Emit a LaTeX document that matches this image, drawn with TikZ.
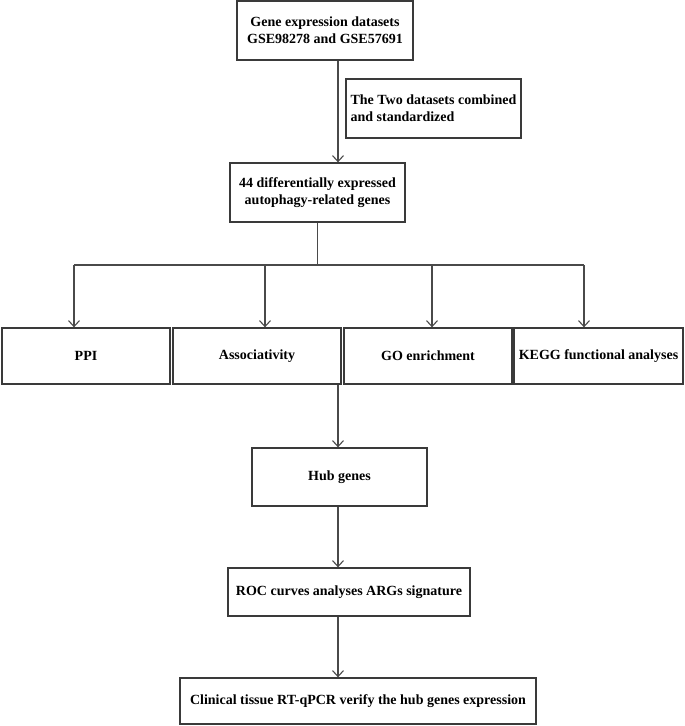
\documentclass[tikz,border=0pt]{standalone}
\usepackage{fontspec}
\setmainfont{Liberation Serif}
\usetikzlibrary{arrows.meta,positioning}
\definecolor{boxgray}{HTML}{3A3A3A}
\definecolor{linegray}{HTML}{4A4A4A}

\begin{document}
\begin{tikzpicture}[
  x=1pt, y=-1pt,
  >={Straight Barb[length=6pt,width=11pt]},
  flow/.style={->, draw=linegray, line width=1.1pt},
  link/.style={draw=linegray, line width=1.1pt},
  box/.style={draw=boxgray, line width=1.3pt, align=center, inner sep=1pt,
    font=\fontsize{14}{17}\selectfont\bfseries}
]
  \useasboundingbox (0,0) rectangle (685,726);

  \node[box, minimum width=176pt, minimum height=59pt] (genes) at (325,30.5)
    {Gene expression datasets\\GSE98278 and GSE57691};
  \node[box, minimum width=175pt, minimum height=59pt, align=left] (combine) at (433.5,108.5)
    {The Two datasets combined\\and standardized};
  \node[box, minimum width=175pt, minimum height=59pt] (degs) at (317.5,192.5)
    {44 differentially expressed\\autophagy-related genes};

  % analyses row
  \node[box, minimum width=168pt, minimum height=56pt] (ppi) at (86,356) {PPI};
  \node[box, minimum width=168pt, minimum height=56pt] (assoc) at (257,356) {Associativity};
  \node[box, minimum width=168pt, minimum height=56pt] (go) at (428,356) {GO enrichment};
  \node[box, minimum width=169pt, minimum height=56pt] (kegg) at (598.5,356) {KEGG functional analyses};

  \node[box, minimum width=175pt, minimum height=58pt] (hub) at (339.5,477) {Hub genes};
  \node[box, minimum width=242pt, minimum height=48pt] (roc) at (349,592)
    {ROC curves analyses ARGs signature};
  \node[box, minimum width=356pt, minimum height=46pt] (clinical) at (358,701)
    {Clinical tissue RT-qPCR verify the hub genes expression};

  \coordinate (split) at (317.5,265);

  \draw[flow] ([xshift=13pt]genes.south) -- ([xshift=13pt]genes.south |- degs.north);
  \draw[link] (degs.south) -- (split);
  \draw[link] ([xshift=-12pt]ppi.north |- split) -- ([xshift=-14.5pt]kegg.north |- split);
  \draw[flow] ([xshift=-12pt]ppi.north |- split) -- ([xshift=-12pt]ppi.north);
  \draw[flow] ([xshift=8pt]assoc.north |- split) -- ([xshift=8pt]assoc.north);
  \draw[flow] ([xshift=4pt]go.north |- split) -- ([xshift=4pt]go.north);
  \draw[flow] ([xshift=-14.5pt]kegg.north |- split) -- ([xshift=-14.5pt]kegg.north);

  \draw[flow] ([xshift=-1.5pt]hub.north |- assoc.south) -- ([xshift=-1.5pt]hub.north);
  \draw[flow] ([xshift=-1.5pt]hub.south) -- ([xshift=-1.5pt]hub.south |- roc.north);
  \draw[flow] ([xshift=-1.5pt]hub.south |- roc.south) -- ([xshift=-1.5pt]hub.south |- clinical.north);
\end{tikzpicture}
\end{document}
